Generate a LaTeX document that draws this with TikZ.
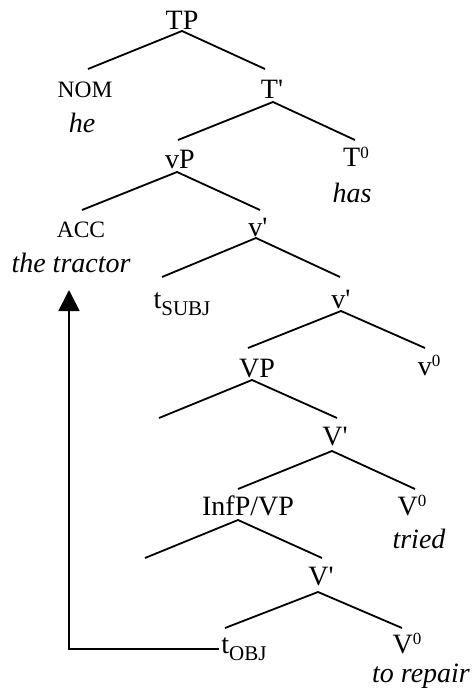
\documentclass[tikz,border=0pt]{standalone}
\usepackage{fontspec}
\setmainfont{Liberation Serif}[Ligatures=TeXOff]
\usetikzlibrary{arrows.meta}
\newcommand{\supz}{\raisebox{9pt}{\fontsize{17}{17}\selectfont 0}}
\newcommand{\subt}[1]{\raisebox{-7pt}{\fontsize{21}{21}\selectfont #1}}
\begin{document}
\begin{tikzpicture}[x=1pt,y=-1pt,
  lab/.style={anchor=base,inner sep=0pt,font=\fontsize{28}{32}\selectfont},
  sm/.style={anchor=base,inner sep=0pt,font=\fontsize{23.5}{26}\selectfont},
  it/.style={anchor=base,inner sep=0pt,font=\fontsize{28}{32}\selectfont\itshape},
  br/.style={line width=1.8pt},
  mv/.style={line width=1.8pt,-{Triangle[width=21pt,length=21pt]}}]
\useasboundingbox (0,0) rectangle (473,695);
% labels
\node[lab] (TP) at (182,30) {TP};
\node[sm]  (NOM) at (85,98) {NOM};
\node[it]  (he) at (82,133) {he};
\node[lab] (Tb) at (272,99) {T'};
\node[lab] (vP) at (180,168) {vP};
\node[lab] (T0) at (356,167) {T\supz};
\node[it]  (has) at (352,202) {has};
\node[sm]  (ACC) at (81,237) {ACC};
\node[it]  (tractor) at (71,272) {the tractor};
\node[lab] (vb1) at (258,236) {v'};
\node[lab] (tSUBJ) at (182,308) {t\subt{SUBJ}};
\node[lab] (vb2) at (341,308) {v'};
\node[lab] (VP) at (257,377) {VP};
\node[lab] (v0) at (429,375) {v\supz};
\node[lab] (Vb1) at (335,445) {V'};
\node[lab] (InfP) at (248,515) {InfP/VP};
\node[lab] (V01) at (412,515) {V\supz};
\node[it]  (tried) at (419,548) {tried};
\node[lab] (Vb2) at (321,585) {V'};
\node[lab] (tOBJ) at (244,653) {t\subt{OBJ}};
\node[lab] (V02) at (407,653) {V\supz};
\node[it]  (repair) at (421,682) {to repair};
% branch points
\coordinate (TPa) at (182,31);  \coordinate (NOMe) at (88,69);   \coordinate (Tbe) at (265,69);
\coordinate (Tba) at (273,102); \coordinate (vPe) at (178,140);  \coordinate (T0e) at (355,140);
\coordinate (vPa) at (177,172); \coordinate (ACCe) at (82,210);  \coordinate (vb1e) at (260,210);
\coordinate (vb1a) at (256,238);\coordinate (tSUBJe) at (162,277);\coordinate (vb2e) at (340,277);
\coordinate (vb2a) at (341,311);\coordinate (VPe) at (248,348);  \coordinate (v0e) at (425,348);
\coordinate (VPa) at (252,380); \coordinate (VPle) at (159,418); \coordinate (Vb1e) at (337,418);
\coordinate (Vb1a) at (332,451);\coordinate (InfPe) at (238,489);\coordinate (V01e) at (415,489);
\coordinate (InfPa) at (238,520);\coordinate (InfPle) at (145,558);\coordinate (Vb2e) at (322,558);
\coordinate (Vb2a) at (318,592);\coordinate (tOBJe) at (225,628);\coordinate (V02e) at (402,628);
\draw[br] (NOMe) -- (TPa) -- (Tbe);
\draw[br] (vPe) -- (Tba) -- (T0e);
\draw[br] (ACCe) -- (vPa) -- (vb1e);
\draw[br] (tSUBJe) -- (vb1a) -- (vb2e);
\draw[br] (VPe) -- (vb2a) -- (v0e);
\draw[br] (VPle) -- (VPa) -- (Vb1e);
\draw[br] (InfPe) -- (Vb1a) -- (V01e);
\draw[br] (InfPle) -- (InfPa) -- (Vb2e);
\draw[br] (tOBJe) -- (Vb2a) -- (V02e);
% movement arrow
\coordinate (tip) at (69,290);
\draw[mv] ([xshift=-2pt]tOBJ.west) -| (tip);
\end{tikzpicture}
\end{document}
